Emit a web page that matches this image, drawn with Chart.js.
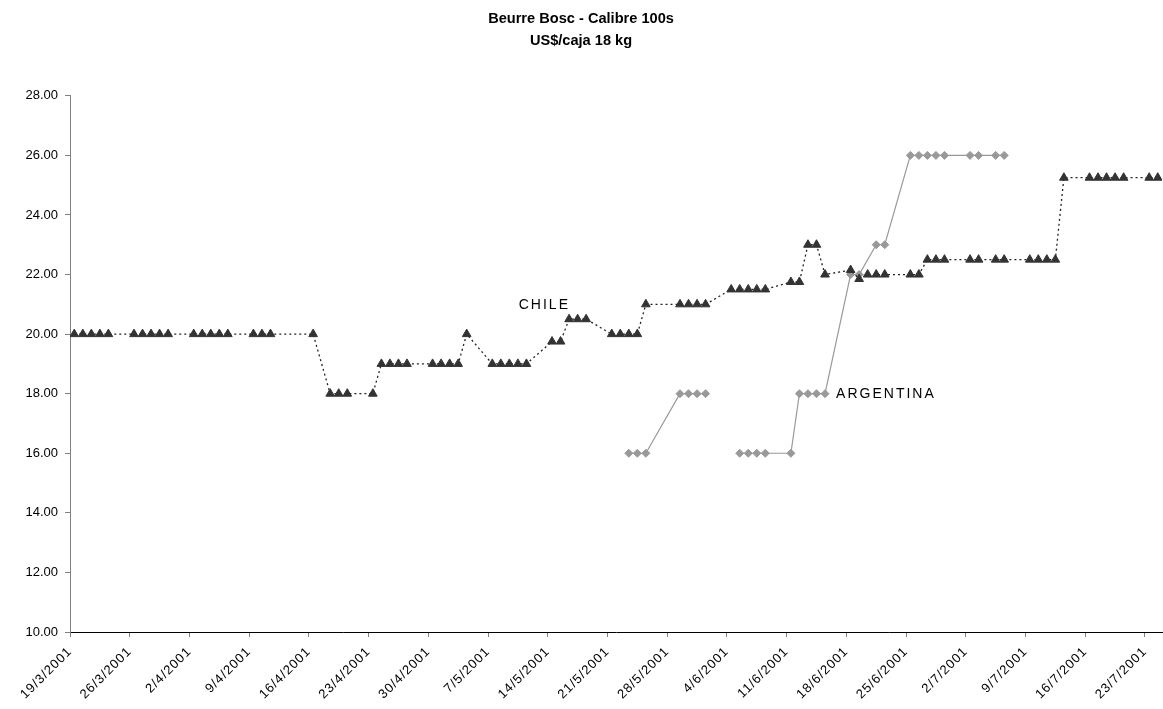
<!DOCTYPE html>
<html><head><meta charset="utf-8">
<script src="https://cdn.jsdelivr.net/npm/chart.js@4/dist/chart.umd.min.js"></script>
<style>html,body{margin:0;padding:0;background:#fff}canvas{display:block}</style>
</head><body>
<canvas id="c" width="1163" height="709"></canvas>
<script>
const titleLines = ['Beurre Bosc - Calibre 100s', 'US$/caja 18 kg'];
const tickLabels = ['19/3/2001','26/3/2001','2/4/2001','9/4/2001','16/4/2001','23/4/2001','30/4/2001','7/5/2001','14/5/2001','21/5/2001','28/5/2001','4/6/2001','11/6/2001','18/6/2001','25/6/2001','2/7/2001','9/7/2001','16/7/2001','23/7/2001'];
const yTicks = [10, 12, 14, 16, 18, 20, 22, 24, 26, 28];

const chileDates = [
 '19/3/2001','20/3/2001','21/3/2001','22/3/2001','23/3/2001',
 '26/3/2001','27/3/2001','28/3/2001','29/3/2001','30/3/2001',
 '2/4/2001','3/4/2001','4/4/2001','5/4/2001','6/4/2001',
 '9/4/2001','10/4/2001','11/4/2001',
 '16/4/2001','18/4/2001','19/4/2001','20/4/2001',
 '23/4/2001','24/4/2001','25/4/2001','26/4/2001','27/4/2001',
 '30/4/2001','1/5/2001','2/5/2001','3/5/2001','4/5/2001',
 '7/5/2001','8/5/2001','9/5/2001','10/5/2001','11/5/2001',
 '14/5/2001','15/5/2001','16/5/2001','17/5/2001','18/5/2001',
 '21/5/2001','22/5/2001','23/5/2001','24/5/2001','25/5/2001',
 '29/5/2001','30/5/2001','31/5/2001','1/6/2001',
 '4/6/2001','5/6/2001','6/6/2001','7/6/2001','8/6/2001',
 '11/6/2001','12/6/2001','13/6/2001','14/6/2001','15/6/2001',
 '18/6/2001','19/6/2001','20/6/2001','21/6/2001','22/6/2001',
 '25/6/2001','26/6/2001','27/6/2001','28/6/2001','29/6/2001',
 '2/7/2001','3/7/2001','5/7/2001','6/7/2001',
 '9/7/2001','10/7/2001','11/7/2001','12/7/2001','13/7/2001',
 '16/7/2001','17/7/2001','18/7/2001','19/7/2001','20/7/2001',
 '23/7/2001','24/7/2001'];
const chileValues = [
 20,20,20,20,20,
 20,20,20,20,20,
 20,20,20,20,20,
 20,20,20,
 20,18,18,18,
 18,19,19,19,19,
 19,19,19,19,20,
 19,19,19,19,19,
 19.75,19.75,20.5,20.5,20.5,
 20,20,20,20,21,
 21,21,21,21,
 21.5,21.5,21.5,21.5,21.5,
 21.75,21.75,23,23,22,
 22.15,21.85,22,22,22,
 22,22,22.5,22.5,22.5,
 22.5,22.5,22.5,22.5,
 22.5,22.5,22.5,22.5,25.25,
 25.25,25.25,25.25,25.25,25.25,
 25.25,25.25];

const argDates = ['23/5/2001','24/5/2001','25/5/2001','29/5/2001','30/5/2001','31/5/2001','1/6/2001',
 '4/6/2001','5/6/2001','6/6/2001','7/6/2001','8/6/2001','11/6/2001','12/6/2001','13/6/2001','14/6/2001','15/6/2001',
 '18/6/2001','19/6/2001','21/6/2001','22/6/2001','25/6/2001','26/6/2001','27/6/2001','28/6/2001','29/6/2001',
 '2/7/2001','3/7/2001','5/7/2001','6/7/2001'];
const argValues = [16,16,16,18,18,18,18,
 null,16,16,16,16,16,18,18,18,18,
 22,22,23,23,26,26,26,26,26,
 26,26,26,26];

const FONT = '"Liberation Sans", Arial, sans-serif';

function dayIndex(s) {
  const [d, m, y] = s.split('/').map(Number);
  return Math.round((Date.UTC(y, m - 1, d) - Date.UTC(2001, 2, 19)) / 86400000);
}
function toPoints(dates, values) {
  return dates.map((d, i) => ({ x: dayIndex(d) + 0.5, y: values[i] }));
}

const labelPlugin = {
  id: 'seriesLabels',
  afterDatasetsDraw(chart) {
    const { ctx, scales: { x, y } } = chart;
    ctx.save();
    ctx.font = '14px ' + FONT;
    ctx.letterSpacing = '2px';
    ctx.fillStyle = '#000';
    ctx.textBaseline = 'middle';
    ctx.textAlign = 'left';
    ctx.fillText('CHILE', x.getPixelForValue(52.6), y.getPixelForValue(20.97));
    ctx.fillText('ARGENTINA', x.getPixelForValue(89.8), y.getPixelForValue(18));
    ctx.restore();
  }
};

function spacedLabels(spacing) {
  return s => {
    if (s._spacedWrap) return;
    const orig = s.drawLabels.bind(s);
    s.drawLabels = function (area) {
      this.ctx.save();
      this.ctx.letterSpacing = spacing;
      orig(area);
      this.ctx.restore();
    };
    s._spacedWrap = true;
  };
}

new Chart(document.getElementById('c').getContext('2d'), {
  type: 'line',
  data: {
    datasets: [
      {
        label: 'CHILE',
        data: toPoints(chileDates, chileValues),
        borderColor: '#222',
        borderWidth: 1.3,
        borderDash: [2, 3],
        pointStyle: 'triangle',
        pointRadius: 5,
        pointBackgroundColor: '#333',
        pointBorderColor: '#333',
        pointBorderWidth: 1,
        tension: 0,
        spanGaps: true
      },
      {
        label: 'ARGENTINA',
        data: toPoints(argDates, argValues),
        borderColor: '#999',
        borderWidth: 1.2,
        pointStyle: 'rectRot',
        pointRadius: 4,
        pointBackgroundColor: '#999',
        pointBorderColor: '#999',
        pointBorderWidth: 1,
        tension: 0,
        spanGaps: false
      }
    ]
  },
  options: {
    responsive: false,
    animation: false,
    devicePixelRatio: 1,
    layout: { autoPadding: false, padding: { left: 0, right: 1, top: 0, bottom: 0 } },
    plugins: {
      legend: { display: false },
      tooltip: { enabled: false },
      title: {
        display: true,
        text: titleLines,
        color: '#000',
        font: { family: FONT, size: 14.6, weight: 'bold', lineHeight: 1.5 },
        padding: { top: 8, bottom: 44 }
      }
    },
    scales: {
      x: {
        type: 'linear',
        min: 0,
        max: 128,
        afterBuildTicks: s => { s.ticks = tickLabels.map((_, i) => ({ value: i * 7 })); },
        afterFit: s => { s.height = 77; s.paddingLeft = 0; s.paddingRight = 0; },
        afterUpdate: spacedLabels('1px'),
        ticks: {
          autoSkip: false,
          minRotation: 45,
          maxRotation: 45,
          color: '#000',
          padding: 7,
          font: { family: FONT, size: 13 },
          callback: v => tickLabels[Math.round(v / 7)]
        },
        grid: { drawOnChartArea: false, drawTicks: true, tickLength: 5, color: '#808080' },
        border: { color: '#000', width: 1 }
      },
      y: {
        min: 10,
        max: 28,
        afterBuildTicks: s => { s.ticks = yTicks.map(v => ({ value: v })); },
        afterFit: s => { s.width = 70; s.paddingLeft = 0; s.paddingRight = 0; },
        ticks: {
          color: '#000',
          padding: 7,
          font: { family: FONT, size: 13 },
          callback: v => Number(v).toFixed(2)
        },
        grid: { drawOnChartArea: false, drawTicks: true, tickLength: 5, color: '#808080' },
        border: { color: '#808080', width: 1 }
      }
    }
  },
  plugins: [labelPlugin]
});
</script>
</body></html>
